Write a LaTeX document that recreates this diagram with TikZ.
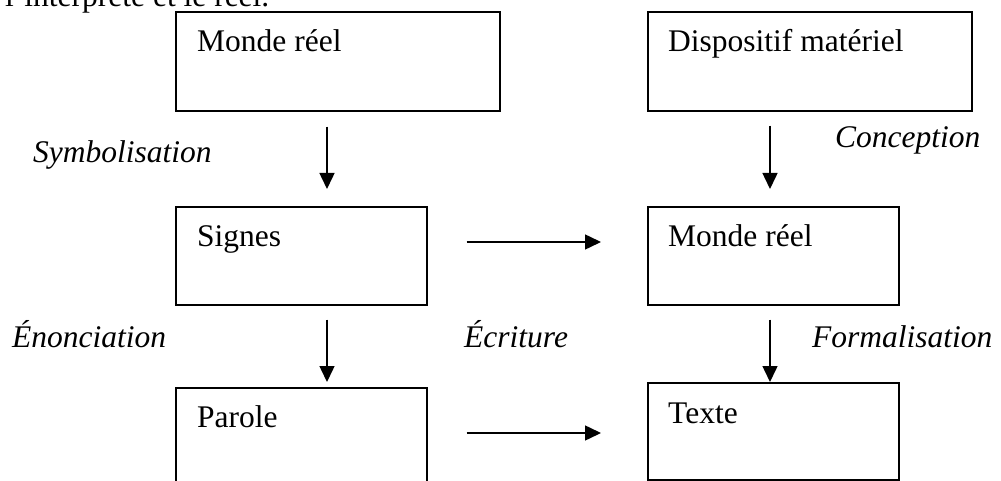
\documentclass[tikz,border=0pt]{standalone}
\usepackage{fontspec}
\setmainfont{Liberation Serif}
\usetikzlibrary{arrows.meta,calc}
\begin{document}
\begin{tikzpicture}[x=1pt,y=-1pt,
  box/.style={draw, line width=1.6pt, anchor=north west, inner sep=0pt},
  wide/.style={box, minimum width=324pt, minimum height=99pt},
  narrow/.style={box, minimum width=251pt, minimum height=98pt},
  lbl/.style={anchor=base west, inner sep=0pt, font=\fontsize{31.5}{38}\selectfont},
  ital/.style={anchor=base west, inner sep=0pt, font=\fontsize{31.5}{38}\selectfont\itshape},
  arr/.style={line width=1.5pt, -{Triangle[width=15pt,length=16pt]}}]
\useasboundingbox (0,0) rectangle (1001,481);
\clip (0,0) rectangle (1001,481);

% cut-off line of text above the diagram
\node[lbl] (intro) at (5,7) {l’interprète et le réel.};

% boxes
\node[wide]   (reel1) at (175,11)  {};
\node[wide]   (disp)  at (647,11)  {};
\node[narrow] (sign)  at (175,206) {};
\node[narrow] (reel2) at (647,206) {};
\node[narrow, minimum height=110pt] (parole) at (175,387) {};
\node[narrow, minimum height=97pt] (texte) at (647,382) {};

% box texts
\node[lbl] (treel1)  at ($(reel1.north west)+(22,41)$)  {Monde réel};
\node[lbl] (tdisp)   at ($(disp.north west)+(21,41)$)   {Dispositif matériel};
\node[lbl] (tsign)   at ($(sign.north west)+(22,41)$)   {Signes};
\node[lbl] (treel2)  at ($(reel2.north west)+(21,41)$)  {Monde réel};
\node[lbl] (tparole) at ($(parole.north west)+(22,40)$) {Parole};
\node[lbl] (ttexte)  at ($(texte.north west)+(21,41)$)  {Texte};

% arrow labels
\node[ital] (lsym)  at (33,163)  {Symbolisation};
\node[ital] (lconc) at (835,148) {Conception};
\node[ital] (lenon) at (12,347)  {Énonciation};
\node[ital] (lecri) at (464,347) {Écriture};
\node[ital] (lform) at (812,347) {Formalisation};

% connectors
\draw[arr] ($(reel1.south west)+(152,15)$) -- ($(sign.north west)+(152,-17)$);
\draw[arr] ($(disp.south west)+(123,14)$)  -- ($(reel2.north west)+(123,-17)$);
\draw[arr] ($(sign.south west)+(152,14)$)  -- ($(parole.north west)+(152,-5)$);
\draw[arr] ($(reel2.south west)+(123,14)$) -- (texte.north west -| {$(reel2.south west)+(123,0)$});
\draw[arr] ($(sign.north east)+(39,36)$)   -- ($(reel2.north west)+(-46,36)$);
\draw[arr] ($(parole.north east)+(39,46)$) -- ($(texte.north west)+(-46,51)$);
\end{tikzpicture}
\end{document}
